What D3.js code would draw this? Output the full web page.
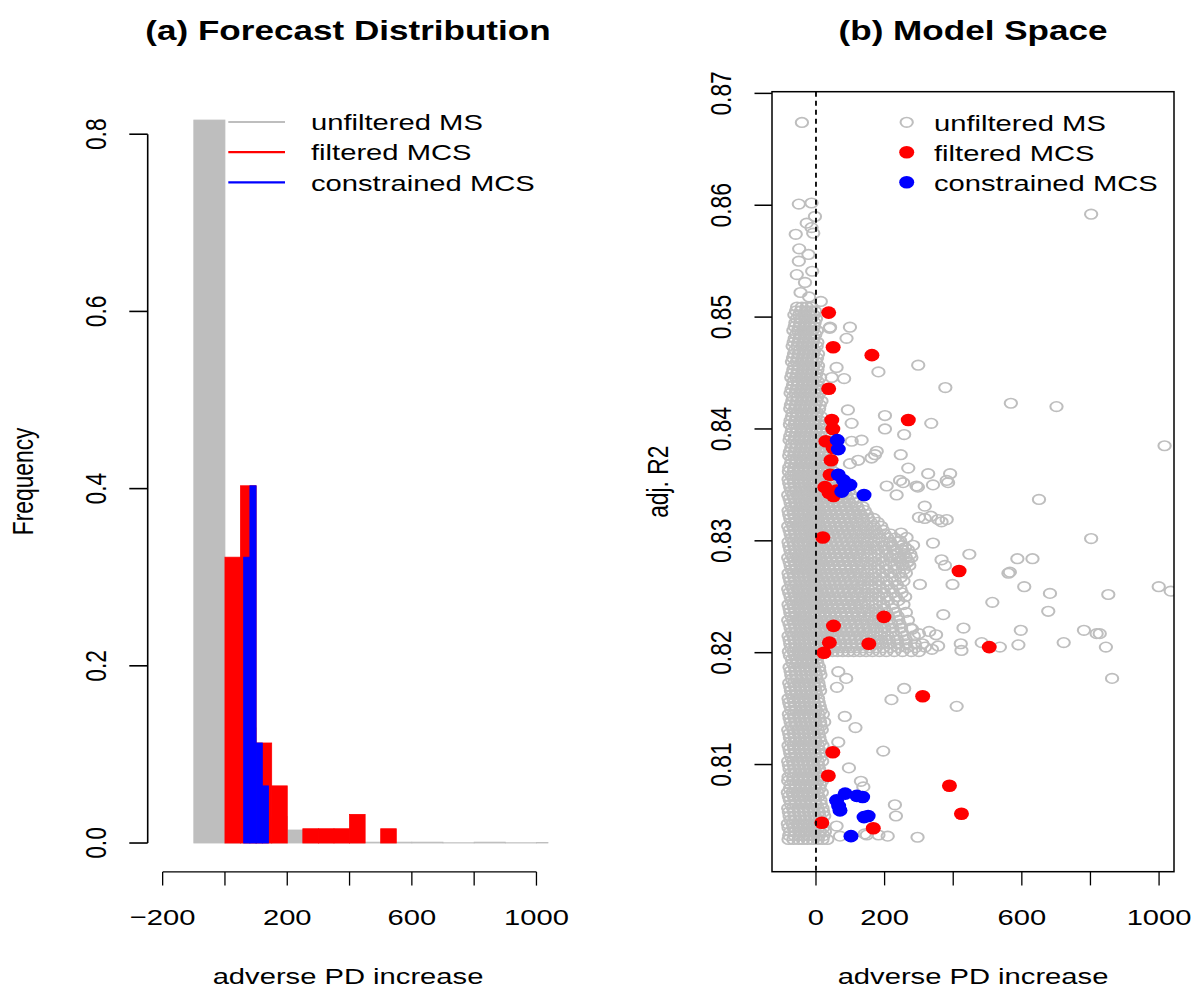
<!DOCTYPE html>
<html>
<head>
<meta charset="utf-8">
<script src="https://cdn.jsdelivr.net/npm/d3@7"></script>
<style>
  html, body { margin: 0; padding: 0; background: #fff; }
  svg text { font-family: "Liberation Sans", Arial, Helvetica, sans-serif; fill: #000; }
</style>
</head>
<body>
<svg id="fig" width="1195" height="989"></svg>
<script>
// ---------------- data ----------------
// (a) histogram bins: break points and relative frequencies
const msBreaks = [-100, 0, 100, 200, 300, 400, 500, 600, 700, 800, 900, 1000, 1100];
const msFreq   = [0.816, 0.13, 0.03, 0.0147, 0.002, 0.001, 0.001, 0.001, 0.0003, 0.001, 0.0003, 0.0005];

const filteredBreaks = [0, 50, 100, 150, 200, 250, 300, 350, 400, 450, 500, 550];
const filteredFreq   = [0.3226, 0.4032, 0.1129, 0.0645, 0, 0.0161, 0.0161, 0.0161, 0.0323, 0, 0.0161];

const constrainedBreaks = [60, 80, 100, 120, 140, 160];
const constrainedFreq   = [0.3226, 0.4032, 0.1129, 0.0645, 0];

const histYTicks = [0, 0.2, 0.4, 0.6, 0.8];
const histXTicks = [-200, 0, 200, 400, 600, 800, 1000];
const histXLabels = [-200, 200, 600, 1000];

// (b) model space, densely packed unfiltered models by row: [adj. R2, [PD increase ...]]
const msRowsA = [
  [0.8033, [-80,-66,-51,-38,-24,-9,5,19,33]],
  [0.8040, [-75,-60,-45,-31,-17,-3,12,26]],
  [0.8047, [-82,-68,-53,-39,-25,-11,3,18]],
  [0.8054, [-77,-62,-47,-33,-18,-4,10,24]],
  [0.8061, [-81,-67,-52,-37,-23,-9,5,19]],
  [0.8068, [-76,-61,-46,-32,-17,-2,13]],
  [0.8075, [-82,-68,-54,-40,-25,-11,4,17]],
  [0.8082, [-74,-59,-45,-30,-16,-2,12]],
  [0.8089, [-80,-66,-52,-37,-22,-8,7,20]],
  [0.8096, [-77,-63,-48,-34,-19,-5,9]],
  [0.8103, [-81,-67,-53,-38,-24,-10,5,18]],
  [0.8110, [-75,-61,-46,-32,-17,-3,11]],
  [0.8117, [-80,-65,-51,-36,-22,-8,6,19]],
  [0.8124, [-76,-62,-47,-33,-18,-4,10]],
  [0.8131, [-81,-66,-52,-38,-23,-9,5,17]],
  [0.8138, [-74,-60,-45,-31,-16,-2,12,24]],
  [0.8145, [-79,-65,-50,-36,-21,-7,7,20]],
  [0.8152, [-75,-61,-46,-32,-18,-3,11]],
  [0.8159, [-80,-66,-51,-37,-22,-8,6]],
  [0.8166, [-73,-59,-45,-30,-16,-2,12]],
  [0.8173, [-78,-64,-50,-35,-21,-6,7]],
  [0.8180, [-72,-58,-43,-29,-14,0,13]],
  [0.8187, [-77,-62,-48,-33,-19,-5,9]],
  [0.8194, [-70,-56,-41,-27,-12,2]],
  [0.8201, [-79,-65,-51,-37,-23,-9,4,18,33,48,63,78,94,110,128,146,165,185,205,228,252,278,300]],
  [0.8208, [-75,-61,-47,-33,-19,-4,12,27,42,57,72,87,103,119,136,154,173,193,214,237,262,288,310]],
  [0.8215, [-80,-66,-52,-38,-24,-10,4,18,33,49,64,80,96,112,129,147,166,186,208,232,258,285]],
  [0.8222, [-74,-60,-46,-32,-18,-4,11,26,41,56,71,87,103,120,138,157,177,199,222,248,276]],
  [0.8229, [-81,-67,-53,-39,-25,-11,3,17,32,47,63,79,95,112,130,149,169,190,213,240,268]],
  [0.8236, [-75,-61,-47,-33,-19,-5,10,25,40,55,71,87,104,122,141,161,182,205,231,262]],
  [0.8243, [-80,-66,-52,-38,-24,-10,2,16,31,46,62,78,95,113,132,152,173,196,222,255]],
  [0.8250, [-74,-60,-46,-32,-18,-5,9,24,39,54,70,86,103,121,140,160,182,206,233,260]],
  [0.8257, [-81,-67,-53,-39,-25,-11,1,15,30,45,61,77,94,112,131,151,172,195,220,246]],
  [0.8264, [-75,-61,-47,-33,-19,-6,8,23,38,53,69,85,102,120,139,159,181,205,230,255]],
  [0.8271, [-80,-66,-52,-38,-24,-10,0,14,29,44,60,76,93,111,130,150,171,194,218,243,262]],
  [0.8278, [-74,-60,-46,-32,-18,-6,7,22,37,52,68,84,101,119,138,158,180,203,228,252,272]],
  [0.8285, [-81,-67,-53,-39,-25,-11,0,13,28,43,59,75,92,110,129,149,170,192,216,240,262,278]],
  [0.8292, [-75,-61,-47,-33,-19,-7,6,21,36,51,67,83,100,118,137,157,179,202,226,250,268]],
  [0.8299, [-80,-66,-52,-38,-24,-10,0,12,27,42,58,74,91,109,128,148,169,192,216,240]],
  [0.8306, [-74,-60,-46,-32,-18,-7,5,20,35,50,66,82,99,117,136,156,178,200,218]],
  [0.8313, [-81,-67,-53,-39,-25,-11,-1,11,26,41,57,73,90,108,127,147,168,190]],
  [0.8320, [-75,-61,-47,-33,-19,-8,4,19,34,49,65,81,98,116,135,152,168]],
  [0.8327, [-80,-66,-52,-38,-24,-10,-2,10,25,40,56,72,89,107,125,142]],
  [0.8334, [-74,-60,-46,-32,-18,-8,3,18,33,48,64,80,97,115]],
  [0.8341, [-81,-67,-53,-39,-25,-11,-3,9,24,39,55,71,88,102]],
  [0.8348, [-75,-61,-47,-33,-19,-8,2,17,32,47,63,80]],
  [0.8355, [-80,-66,-52,-38,-24,-10,-3,8,23,38,54]],
  [0.8362, [-79,-65,-51,-37,-23,-9,5,19,34,50]],
  [0.8369, [-73,-59,-45,-31,-17,-3,11,26,42]],
  [0.8376, [-78,-64,-50,-36,-22,-8,6,21,37]],
  [0.8383, [-72,-58,-44,-30,-16,-2,12,28]],
  [0.8390, [-77,-63,-49,-35,-21,-7,7,22]],
  [0.8397, [-71,-57,-43,-29,-15,-1,14]],
  [0.8404, [-76,-62,-48,-34,-20,-6,8,24]],
  [0.8411, [-70,-56,-42,-28,-14,0,15]],
  [0.8418, [-75,-61,-47,-33,-19,-5,9]],
  [0.8425, [-69,-55,-41,-27,-13,1,16]],
  [0.8432, [-74,-60,-46,-32,-18,-4,10]],
  [0.8439, [-67,-53,-39,-25,-11,3]],
  [0.8446, [-72,-58,-44,-30,-16,-2,12]],
  [0.8453, [-66,-52,-38,-24,-10,4]],
  [0.8460, [-70,-56,-42,-28,-14,0]],
  [0.8467, [-64,-50,-36,-22,-8,6]],
  [0.8474, [-68,-54,-40,-26,-12,2]],
  [0.8481, [-62,-48,-34,-20,-6]],
  [0.8488, [-66,-52,-38,-24,-10,3]],
  [0.8495, [-60,-46,-32,-18,-4]],
  [0.8502, [-63,-49,-35,-21,-7]],
  [0.8509, [-55,-41,-27,-13]]
];

// rows lying between the ones above
const msRowsB = [
  [0.80365, [-78,-63,-49,-35,-20,-6,8,22]],
  [0.80435, [-80,-65,-50,-36,-22,-8,7,21]],
  [0.80505, [-74,-60,-45,-31,-17,-2,13]],
  [0.80575, [-79,-64,-50,-36,-21,-7,8,21]],
  [0.80645, [-73,-59,-44,-30,-16,-1,14]],
  [0.80715, [-79,-65,-51,-36,-21,-7,7]],
  [0.80785, [-76,-61,-47,-33,-18,-4,10]],
  [0.80855, [-81,-67,-52,-38,-23,-9,5,18]],
  [0.80925, [-73,-59,-44,-30,-15,-1,13]],
  [0.80995, [-79,-65,-51,-36,-22,-8,6]],
  [0.81065, [-72,-58,-43,-29,-15,-1,13]],
  [0.81135, [-77,-63,-49,-35,-20,-6,8]],
  [0.81205, [-73,-58,-44,-29,-15,-1,13]],
  [0.81275, [-78,-64,-50,-35,-21,-7,8]],
  [0.81345, [-71,-57,-42,-28,-14,0,14]],
  [0.81415, [-77,-63,-49,-34,-20,-5,9]],
  [0.81485, [-72,-58,-43,-29,-15,0,14]],
  [0.81555, [-78,-63,-49,-34,-20,-6,8]],
  [0.81625, [-70,-56,-42,-27,-13,1]],
  [0.81695, [-75,-61,-47,-32,-18,-4,9]],
  [0.81765, [-70,-55,-41,-27,-12,2]],
  [0.81835, [-74,-60,-46,-31,-17,-3,10]],
  [0.81905, [-68,-54,-39,-25,-11,4]],
  [0.81975, [-76,-62,-48,-34,-20,-6,8]],
  [0.82045, [-72,-58,-44,-30,-16,-2,11,25,40,55,70,86,102,118,137,156,175,196,217,240,265,290]],
  [0.82115, [-77,-63,-49,-35,-21,-7,7,21,36,51,66,82,98,115,133,151,170,190,212,236,262]],
  [0.82185, [-71,-57,-43,-29,-15,-1,13,28,43,58,73,89,105,122,140,159,179,200,224,250]],
  [0.82255, [-77,-63,-49,-35,-21,-7,6,20,35,50,66,82,99,116,134,153,173,195,219,244]],
  [0.82325, [-72,-58,-44,-30,-16,-3,12,27,42,57,73,89,106,124,143,163,185,210,238]],
  [0.82395, [-77,-63,-49,-35,-21,-7,5,19,34,49,65,81,98,116,135,155,176,199,225]],
  [0.82465, [-71,-57,-43,-29,-15,-2,11,26,41,56,72,88,105,123,142,163,185,210,240]],
  [0.82535, [-78,-64,-50,-36,-22,-8,4,18,33,48,64,80,97,115,134,154,175,198,224,250]],
  [0.82605, [-72,-58,-44,-30,-16,-3,10,25,40,55,71,87,104,122,141,162,184,208,236]],
  [0.82675, [-78,-64,-50,-36,-22,-8,3,17,32,47,63,79,96,114,133,153,174,197,222,248]],
  [0.82745, [-71,-57,-43,-29,-15,-3,10,24,39,54,70,86,103,121,140,160,182,206,232,257]],
  [0.82815, [-77,-63,-49,-35,-21,-8,3,16,31,46,62,78,95,113,132,152,173,196,220,246,268]],
  [0.82885, [-72,-58,-44,-30,-16,-4,9,24,39,54,70,86,103,121,140,160,182,206,232,256]],
  [0.82955, [-78,-64,-50,-36,-22,-9,2,16,31,46,62,78,95,113,132,152,174,197,222,250]],
  [0.83025, [-71,-57,-43,-29,-15,-4,8,23,38,54,70,86,104,122,141,161,184,208,230]],
  [0.83095, [-77,-63,-49,-35,-21,-9,2,15,30,45,61,77,94,112,131,151,173,195]],
  [0.83165, [-72,-58,-44,-30,-16,-5,7,22,37,53,69,85,103,121,140,160,180]],
  [0.83235, [-78,-64,-50,-36,-22,-10,1,14,29,44,60,76,93,111,130,148]],
  [0.83305, [-71,-57,-43,-29,-15,-5,6,21,36,52,68,84,102,120,136]],
  [0.83375, [-77,-63,-49,-35,-21,-10,0,13,28,43,59,75,92,108]],
  [0.83445, [-72,-58,-44,-30,-16,-5,6,20,35,51,67,84,96]],
  [0.83515, [-78,-64,-50,-36,-22,-10,-1,12,27,42,58,72]],
  [0.83585, [-72,-58,-44,-30,-16,-3,11,26,42]],
  [0.83655, [-78,-64,-50,-36,-22,-8,5,19,34]],
  [0.83725, [-71,-57,-43,-29,-15,-1,13,29]],
  [0.83795, [-76,-62,-48,-34,-20,-6,8,22]],
  [0.83865, [-70,-56,-42,-28,-14,0,15]],
  [0.83935, [-75,-61,-47,-33,-19,-5,9,25]],
  [0.84005, [-69,-55,-41,-27,-13,1,16]],
  [0.84075, [-74,-60,-46,-32,-18,-4,10]],
  [0.84145, [-68,-54,-40,-26,-12,3]],
  [0.84215, [-73,-59,-45,-31,-17,-3,11]],
  [0.84285, [-67,-53,-39,-25,-11,4]],
  [0.84355, [-71,-57,-43,-29,-15,-1,12]],
  [0.84425, [-65,-51,-37,-23,-9,5]],
  [0.84495, [-69,-55,-41,-27,-13,1]],
  [0.84565, [-63,-49,-35,-21,-7,6]],
  [0.84635, [-67,-53,-39,-25,-11,3]],
  [0.84705, [-61,-47,-33,-19,-5]],
  [0.84775, [-65,-51,-37,-23,-9,4]],
  [0.84845, [-58,-44,-30,-16,-2]],
  [0.84915, [-62,-48,-34,-20,-6]],
  [0.84985, [-56,-42,-28,-14,0]],
  [0.85055, [-58,-44,-30,-16,-3]]
];

// scattered unfiltered models, [PD increase, adj. R2]
const msSparse = [
  [-41,0.8674],[802,0.8592],[-50,0.8601],[-13,0.8602],[-3,0.8590],[-27,0.8584],[-13,0.8580],
  [-59,0.8574],[-8,0.8575],[-49,0.8561],[-50,0.8550],[-22,0.8556],[-56,0.8538],[-11,0.8541],
  [-32,0.8531],[-45,0.8522],[-20,0.8518],[14,0.8514],[41,0.8491],[99,0.8491],[89,0.8481],
  [40,0.8490],[60,0.8455],[82,0.8445],[46,0.8446],[182,0.8451],[298,0.8457],[377,0.8437],
  [568,0.8423],[701,0.8420],[201,0.8412],[336,0.8405],[201,0.8400],[257,0.8395],[1016,0.8385],
  [93,0.8417],[104,0.8405],[133,0.8390],[104,0.8389],[172,0.8377],[162,0.8374],[247,0.8377],
  [269,0.8365],[327,0.8360],[391,0.8360],[381,0.8354],[123,0.8372],[99,0.8369],[177,0.8380],
  [245,0.8354],[293,0.8349],[206,0.8349],[235,0.8341],[317,0.8331],[356,0.8319],[381,0.8319],
  [366,0.8317],[317,0.8320],[300,0.8321],[335,0.8322],[650,0.8337],[385,0.8352],[341,0.8350],
  [254,0.8352],[297,0.8348],[802,0.8302],[341,0.8298],[447,0.8288],[587,0.8284],[631,0.8284],
  [366,0.8283],[376,0.8278],[561,0.8271],[565,0.8272],[398,0.8261],[607,0.8259],[682,0.8253],
  [852,0.8252],[999,0.8259],[1034,0.8255],[514,0.8245],[677,0.8237],[371,0.8234],[303,0.8261],
  [430,0.8222],[597,0.8220],[781,0.8220],[818,0.8217],[827,0.8217],[483,0.8209],[590,0.8207],
  [722,0.8209],[845,0.8205],[422,0.8208],[424,0.8202],[536,0.8205],[318,0.8205],[338,0.8203],
  [356,0.8206],[280,0.8221],[300,0.8217],[330,0.8219],[350,0.8216],
  [215,0.8298],[230,0.8292],[245,0.8300],[260,0.8294],[275,0.8288],[238,0.8284],[252,0.8279],
  [268,0.8281],[222,0.8287],[283,0.8296],[248,0.8307],[264,0.8303],
  [863,0.8177],[257,0.8168],[220,0.8158],[410,0.8152],[115,0.8133],[84,0.8143],[196,0.8112],
  [65,0.8183],[88,0.8177],[61,0.8169],[65,0.8120],[96,0.8097],[131,0.8085],[138,0.8080],
  [230,0.8064],[233,0.8054],[296,0.8035],[209,0.8036],[182,0.8037],[70,0.8036],[142,0.8038],
  [60,0.8045],[148,0.8037]
];

// filtered model confidence set, [PD increase, adj. R2]
const filteredMCS = [
  [37,0.8504],[50,0.8473],[163,0.8466],[37,0.8436],[269,0.8408],[46,0.8408],[49,0.8400],
  [29,0.8389],[50,0.8383],[44,0.8372],[41,0.8359],[26,0.8348],[38,0.8343],[51,0.8340],
  [60,0.8345],[20,0.8303],[417,0.8273],[198,0.8232],[51,0.8224],[154,0.8208],[39,0.8209],
  [23,0.8200],[505,0.8205],[311,0.8161],[49,0.8111],[36,0.8090],[389,0.8081],[424,0.8056],
  [17,0.8048],[167,0.8043]
];

// constrained model confidence set, [PD increase, adj. R2]
const constrainedMCS = [
  [62,0.8390],[65,0.8382],[65,0.8359],[80,0.8354],[99,0.8350],[75,0.8344],[140,0.8341],
  [85,0.8348],[60,0.8068],[85,0.8074],[119,0.8072],[136,0.8071],[70,0.8059],[140,0.8053],
  [152,0.8054],[102,0.8036],[66,0.8063]
];

const scatterYTicks = [0.81, 0.82, 0.83, 0.84, 0.85, 0.86, 0.87];
const scatterXTicks = [0, 200, 400, 600, 800, 1000];
const scatterXLabels = [0, 200, 600, 1000];

const legendLabels = ["unfiltered MS", "filtered MCS", "constrained MCS"];
const seriesColors = ["#BEBEBE", "#FF0000", "#0000FF"];

// ---------------- drawing ----------------
const SX = 1.28;          // horizontal stretch of the whole figure
const FS = 22.8;          // base font size
const svg = d3.select("#fig");

function label(g, txt, x, y, opt = {}) {
  const t = g.append("text")
    .attr("transform", `translate(${x},${y}) scale(${SX},1)` + (opt.rotate ? " rotate(-90)" : ""))
    .attr("text-anchor", opt.anchor || "middle")
    .style("font-size", (opt.size || FS) + "px")
    .text(txt);
  if (opt.bold) t.style("font-weight", "bold");
  return t;
}
const fmtTick = v => (v < 0 ? "\u2212" + Math.abs(v) : String(v));

// open ring marker, stretched like the rest of the figure
function ring(sel) {
  return sel.attr("r", 4.8).attr("fill", "none")
    .attr("stroke", seriesColors[0]).attr("stroke-width", 1.6);
}

// ---------- panel (a) ----------
const ax = d3.scaleLinear().domain([-248, 1038]).range([147.7, 548.3]);
const ay = d3.scaleLinear().domain([-0.0326, 0.849]).range([871.9, 90.8]);

const pa = svg.append("g");
pa.append("clipPath").attr("id", "clipA")
  .append("rect").attr("x", ax.range()[0]).attr("y", ay.range()[1])
  .attr("width", ax.range()[1] - ax.range()[0]).attr("height", ay.range()[0] - ay.range()[1]);

function drawHist(breaks, freq, color) {
  const bins = freq.map((f, i) => ({ x0: breaks[i], x1: breaks[i + 1], f }));
  pa.append("g").attr("clip-path", "url(#clipA)")
    .selectAll("rect").data(bins).join("rect")
    .attr("x", d => ax(d.x0))
    .attr("width", d => ax(d.x1) - ax(d.x0))
    .attr("y", d => ay(d.f))
    .attr("height", d => ay(0) - ay(d.f))
    .attr("fill", color)
    .attr("stroke", color)
    .attr("stroke-width", 0.8);
}
drawHist(msBreaks, msFreq, seriesColors[0]);
drawHist(filteredBreaks, filteredFreq, seriesColors[1]);
drawHist(constrainedBreaks, constrainedFreq, seriesColors[2]);

// y axis (a)
const ya = pa.append("g").attr("stroke", "#000").attr("stroke-width", 1.6);
ya.append("line").attr("x1", 147.7).attr("x2", 147.7).attr("y1", ay(0)).attr("y2", ay(0.8));
histYTicks.forEach(t => {
  ya.append("line").attr("x1", 147.7).attr("x2", 129.3).attr("y1", ay(t)).attr("y2", ay(t));
  label(pa, d3.format(".1f")(t), 106, ay(t), { rotate: true });
});
// x axis (a)
const xa = pa.append("g").attr("stroke", "#000").attr("stroke-width", 1.3);
xa.append("line").attr("x1", ax(-200)).attr("x2", ax(1000)).attr("y1", 871.9).attr("y2", 871.9);
histXTicks.forEach(t => {
  xa.append("line").attr("x1", ax(t)).attr("x2", ax(t)).attr("y1", 871.9).attr("y2", 885.6);
});
histXLabels.forEach(t => label(pa, fmtTick(t), ax(t), 925));

label(pa, "(a) Forecast Distribution", (ax.range()[0] + ax.range()[1]) / 2, 40, { bold: true, size: 27.4 });
label(pa, "adverse PD increase", (ax.range()[0] + ax.range()[1]) / 2, 984);
label(pa, "Frequency", 33, (ay.range()[0] + ay.range()[1]) / 2, { rotate: true });

// legend (a)
legendLabels.forEach((s, i) => {
  const y = 122 + i * 30.2;
  pa.append("line").attr("x1", 228.3).attr("x2", 285).attr("y1", y).attr("y2", y)
    .attr("stroke", seriesColors[i]).attr("stroke-width", 2.2);
  label(pa, s, 311, y + 8.2, { anchor: "start" });
});

// ---------- panel (b) ----------
const bx = d3.scaleLinear().domain([-128.2, 1043.5]).range([772, 1174]);
const by = d3.scaleLinear().domain([0.80042, 0.87015]).range([871.7, 91.7]);
const pb = svg.append("g");
pb.append("clipPath").attr("id", "clipB")
  .append("rect").attr("x", 772).attr("y", 91.7).attr("width", 402).attr("height", 780);

const msPoints = [];
msRowsA.concat(msRowsB).forEach(([v, us]) => us.forEach(u => msPoints.push([u, v])));
msSparse.forEach(p => msPoints.push(p));

const pts = pb.append("g").attr("clip-path", "url(#clipB)");
pts.append("g").selectAll("circle").data(msPoints).join("circle")
  .attr("transform", d => `translate(${bx(d[0])},${by(d[1])}) scale(${SX},1)`)
  .call(ring);

// dashed reference line at zero
pb.append("line").attr("x1", bx(0)).attr("x2", bx(0)).attr("y1", 91.7).attr("y2", 871.7)
  .attr("stroke", "#000").attr("stroke-width", 1.8).attr("stroke-dasharray", "5,4");

pts.append("g").selectAll("ellipse").data(filteredMCS).join("ellipse")
  .attr("cx", d => bx(d[0])).attr("cy", d => by(d[1]))
  .attr("rx", 7.5).attr("ry", 6.3).attr("fill", seriesColors[1]);
pts.append("g").selectAll("ellipse").data(constrainedMCS).join("ellipse")
  .attr("cx", d => bx(d[0])).attr("cy", d => by(d[1]))
  .attr("rx", 7.5).attr("ry", 6.3).attr("fill", seriesColors[2]);

// box
pb.append("rect").attr("x", 772).attr("y", 91.7).attr("width", 402).attr("height", 780)
  .attr("fill", "none").attr("stroke", "#000").attr("stroke-width", 1.5);

// y axis (b)
scatterYTicks.forEach(t => {
  pb.append("line").attr("x1", 772).attr("x2", 754.5).attr("y1", by(t)).attr("y2", by(t))
    .attr("stroke", "#000").attr("stroke-width", 1.5);
  label(pb, d3.format(".2f")(t), 731, by(t), { rotate: true });
});
// x axis (b)
scatterXTicks.forEach(t => {
  pb.append("line").attr("x1", bx(t)).attr("x2", bx(t)).attr("y1", 871.7).attr("y2", 885.4)
    .attr("stroke", "#000").attr("stroke-width", 1.3);
});
scatterXLabels.forEach(t => label(pb, fmtTick(t), bx(t), 925));

label(pb, "(b) Model Space", 973, 40, { bold: true, size: 27.4 });
label(pb, "adverse PD increase", 973, 984);
label(pb, "adj. R2", 668, 481.7, { rotate: true });

// legend (b)
legendLabels.forEach((s, i) => {
  const y = 122.3 + i * 30;
  if (i === 0) {
    pb.append("circle").attr("transform", `translate(906.7,${y}) scale(${SX},1)`).call(ring);
  } else {
    pb.append("ellipse").attr("cx", 906.7).attr("cy", y)
      .attr("rx", 7.5).attr("ry", 6.3).attr("fill", seriesColors[i]);
  }
  label(pb, s, 934, y + 8.2, { anchor: "start" });
});
</script>
</body>
</html>
